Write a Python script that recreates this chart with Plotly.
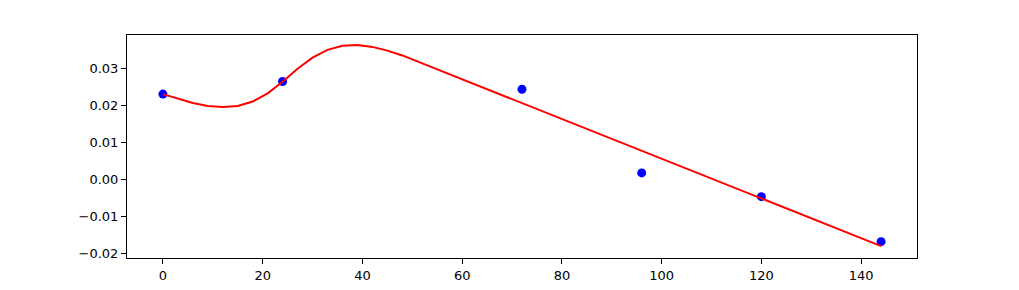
import plotly.graph_objects as go

# Observed points
point_x = [0, 24, 72, 96, 120, 144]
point_y = [0.0230, 0.0264, 0.0243, 0.0018, -0.0046, -0.0167]

# Fitted curve (sampled)
curve_x = [0, 3, 6, 9, 12, 15, 18, 21, 24, 27, 30, 33, 36, 39, 42, 45, 48,
           51, 54, 57, 60, 63, 66, 69, 72, 75, 78, 81, 84, 87, 90, 93, 96,
           99, 102, 105, 108, 111, 114, 117, 120, 123, 126, 129, 132, 135,
           138, 141, 144]
curve_y = [0.0230, 0.0219, 0.0206, 0.0198, 0.0195, 0.0198, 0.0210, 0.0232,
           0.0263, 0.0298, 0.0328, 0.0349, 0.0360, 0.0362, 0.0357, 0.0347,
           0.0334, 0.0318, 0.0302, 0.0286, 0.0270, 0.0254, 0.0238, 0.0222,
           0.0206, 0.0190, 0.0174, 0.0158, 0.0142, 0.0126, 0.0110, 0.0094,
           0.0078, 0.0062, 0.0046, 0.0030, 0.0014, -0.0002, -0.0018, -0.0034,
           -0.0050, -0.0066, -0.0082, -0.0098, -0.0114, -0.0130, -0.0146,
           -0.0162, -0.0179]

x_tickvals = [0, 20, 40, 60, 80, 100, 120, 140]
x_ticktext = ["0", "20", "40", "60", "80", "100", "120", "140"]
y_tickvals = [-0.02, -0.01, 0.0, 0.01, 0.02, 0.03]
y_ticktext = ["\u22120.02", "\u22120.01", "0.00", "0.01", "0.02", "0.03"]

fig = go.Figure()
fig.add_trace(go.Scatter(x=point_x, y=point_y, mode="markers",
                         marker=dict(color="#0000ff", size=9, line=dict(width=0)),
                         showlegend=False, hoverinfo="skip"))
fig.add_trace(go.Scatter(x=curve_x, y=curve_y, mode="lines",
                         line=dict(color="#ff0000", width=2),
                         showlegend=False, hoverinfo="skip"))

axis_common = dict(showgrid=False, zeroline=False, showline=True, mirror=True,
                   linecolor="black", linewidth=1, ticks="outside", ticklen=5,
                   tickwidth=1, tickcolor="black", automargin=False,
                   tickfont=dict(family="DejaVu Sans", size=13, color="black"))

fig.update_xaxes(range=[-7.2, 151.2], tickmode="array", tickvals=x_tickvals,
                 ticktext=x_ticktext, **axis_common)
fig.update_yaxes(range=[-0.0211, 0.0389], tickmode="array", tickvals=y_tickvals,
                 ticktext=y_ticktext, **axis_common)

fig.update_layout(width=1019, height=290,
                  margin=dict(l=127, r=102, t=35, b=32, autoexpand=False),
                  plot_bgcolor="white", paper_bgcolor="white",
                  font=dict(family="DejaVu Sans", size=13, color="black"))

fig.write_html("out.html")
